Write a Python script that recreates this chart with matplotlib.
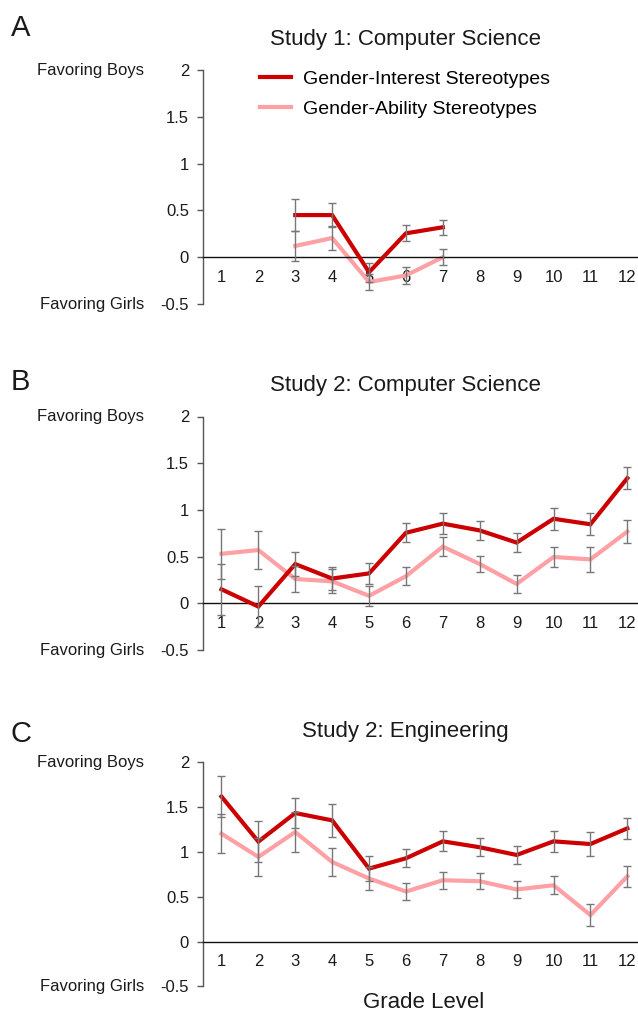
import matplotlib
matplotlib.use("Agg")
import matplotlib.pyplot as plt
import matplotlib.transforms as mtransforms
import numpy as np

plt.rcParams['font.family'] = ['Liberation Sans', 'DejaVu Sans']

grades = list(range(1, 13))
grade_labels = [str(g) for g in grades]

# Panel A: Study 1, Computer Science (grades 3-7)
a_grades = [3, 4, 5, 6, 7]
a_interest = [0.45, 0.45, -0.16, 0.255, 0.32]
a_interest_err = [0.17, 0.13, 0.10, 0.085, 0.08]
a_ability = [0.12, 0.205, -0.265, -0.195, 0.0]
a_ability_err = [0.16, 0.13, 0.09, 0.09, 0.085]

# Panel B: Study 2, Computer Science
b_interest = [0.15, -0.035, 0.42, 0.265, 0.32, 0.755, 0.853, 0.78, 0.65, 0.905, 0.846, 1.34]
b_interest_err = [0.27, 0.22, 0.13, 0.12, 0.11, 0.10, 0.115, 0.10, 0.10, 0.12, 0.12, 0.115]
b_ability = [0.53, 0.57, 0.26, 0.235, 0.08, 0.29, 0.607, 0.42, 0.207, 0.496, 0.47, 0.768]
b_ability_err = [0.27, 0.20, 0.14, 0.13, 0.11, 0.095, 0.10, 0.085, 0.095, 0.11, 0.135, 0.12]

# Panel C: Study 2, Engineering
c_interest = [1.62, 1.117, 1.436, 1.354, 0.816, 0.931, 1.12, 1.054, 0.968, 1.12, 1.09, 1.265]
c_interest_err = [0.23, 0.23, 0.17, 0.18, 0.14, 0.10, 0.11, 0.10, 0.105, 0.12, 0.13, 0.12]
c_ability = [1.206, 0.946, 1.224, 0.89, 0.705, 0.56, 0.686, 0.675, 0.583, 0.63, 0.297, 0.73]
c_ability_err = [0.22, 0.21, 0.22, 0.16, 0.13, 0.10, 0.095, 0.087, 0.093, 0.10, 0.12, 0.115]

y_ticks = [-0.5, 0, 0.5, 1, 1.5, 2]
y_tick_labels = ['-0.5', '0', '0.5', '1', '1.5', '2']

series_labels = ['Gender-Interest Stereotypes', 'Gender-Ability Stereotypes']
titles = ['Study 1: Computer Science', 'Study 2: Computer Science', 'Study 2: Engineering']
panel_letters = ['A', 'B', 'C']

RED = '#CC0000'
PINK = '#FFA0A5'
ERR = '#777777'
TXT = '#1a1a1a'

W, H = 638, 1011
fig = plt.figure(figsize=(W / 100, H / 100), dpi=100)

def fx(px):
    return px / W

def fy(py):
    return 1 - py / H

# axes pixel boxes: (top y of value 2, bottom y of value -0.5)
boxes = [(70, 304), (416.5, 650), (762.5, 986.5)]
x_left = 203
x_right = 203 + 12 * 36.9

panel_data = [
    (a_grades, a_interest, a_interest_err, a_ability, a_ability_err),
    (grades, b_interest, b_interest_err, b_ability, b_ability_err),
    (grades, c_interest, c_interest_err, c_ability, c_ability_err),
]
title_y = [40, 386, 732]
letter_y = [28, 382, 734]

axes = []
for i, (top, bot) in enumerate(boxes):
    ax = fig.add_axes([fx(x_left), fy(bot), (x_right - x_left) / W, (bot - top) / H])
    axes.append(ax)
    for s in ['top', 'right']:
        ax.spines[s].set_visible(False)
    ax.spines['bottom'].set_position(('data', 0))
    ax.spines['bottom'].set_color('#111111')
    ax.spines['bottom'].set_linewidth(1.0)
    ax.spines['left'].set_color('#555555')
    ax.spines['left'].set_linewidth(1.0)
    ax.patch.set_alpha(0)

    xs, yi, ei, ya, ea = panel_data[i]
    ax.plot(xs, yi, color=RED, lw=3.0, zorder=3, solid_joinstyle='miter', label=series_labels[0])
    ax.plot(xs, ya, color=PINK, lw=3.0, zorder=2, solid_joinstyle='miter', label=series_labels[1])
    ax.errorbar(xs, yi, yerr=ei, fmt='none', ecolor=ERR, elinewidth=1.0, capsize=3, capthick=1.0, zorder=4)
    ax.errorbar(xs, ya, yerr=ea, fmt='none', ecolor=ERR, elinewidth=1.0, capsize=3, capthick=1.0, zorder=4)

    ax.set_xlim(0.5, 12.5)
    ax.set_ylim(-0.5, 2)
    ax.set_yticks(y_ticks)
    ax.set_yticklabels(y_tick_labels)
    ax.set_xticks(grades)
    ax.set_xticklabels(grade_labels)
    ax.tick_params(axis='x', length=0, pad=9, labelsize=12, labelcolor=TXT)
    ax.tick_params(axis='y', length=4, width=1, color='#555555', pad=6, labelsize=12, labelcolor=TXT)

    trans = mtransforms.blended_transform_factory(fig.transFigure, ax.transData)
    fig.text(fx(144), 2, 'Favoring Boys', transform=trans, ha='right', va='center', fontsize=12, color=TXT)
    fig.text(fx(144), -0.5, 'Favoring Girls', transform=trans, ha='right', va='center', fontsize=12, color=TXT)

    fig.text(fx(405), fy(title_y[i]), titles[i], ha='center', va='center', fontsize=16, color=TXT)
    fig.text(fx(11), fy(letter_y[i]), panel_letters[i], ha='left', va='center', fontsize=21, color=TXT)

axes[0].legend(loc='upper left', bbox_to_anchor=(fx(260), fy(70)), bbox_transform=fig.transFigure,
               frameon=False, fontsize=14, handlelength=1.6, handletextpad=0.62,
               labelspacing=0.65, borderpad=0, borderaxespad=0)

fig.text(fx(424), fy(1002), 'Grade Level', ha='center', va='center', fontsize=16, color=TXT)

fig.savefig('out.png', dpi=100)
